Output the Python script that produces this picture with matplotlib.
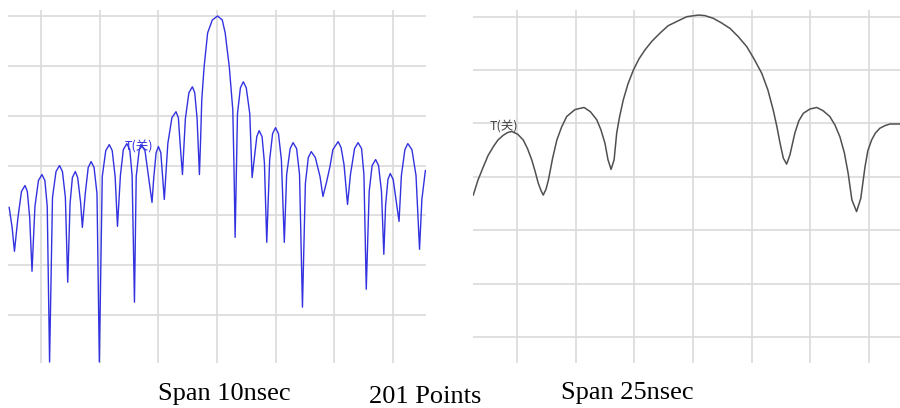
import matplotlib.pyplot as plt

plt.rcParams['font.family'] = ['Noto Sans CJK SC', 'DejaVu Sans']

# span 10 nsec trace (time in ns, level in dB)
t10 = [-3.55, -3.50, -3.46,
       -3.40, -3.34, -3.28, -3.24, -3.20, -3.16,
       -3.11, -3.05, -2.99, -2.94, -2.90, -2.86,
       -2.81, -2.75, -2.69, -2.64, -2.59, -2.55,
       -2.51, -2.47, -2.42, -2.38, -2.33, -2.30,
       -2.25, -2.20, -2.15, -2.10, -2.05, -2.01,
       -1.96, -1.90, -1.84, -1.79, -1.74, -1.70,
       -1.65, -1.60, -1.54, -1.49, -1.45, -1.41,
       -1.38, -1.33, -1.30, -1.23, -1.17, -1.11,
       -1.08, -1.04, -1.00, -0.96, -0.93, -0.90,
       -0.84, -0.77, -0.70, -0.66, -0.63, -0.59,
       -0.54, -0.48, -0.42, -0.38, -0.34, -0.30,
       -0.28, -0.26, -0.22, -0.16, -0.08, 0.01, 0.09, 0.14, 0.21, 0.27, 0.29, 0.31,
       0.35, 0.40, 0.45, 0.50, 0.56, 0.60,
       0.64, 0.68, 0.72, 0.77, 0.81, 0.85,
       0.90, 0.95, 1.00, 1.05, 1.10, 1.15,
       1.19, 1.25, 1.30, 1.36, 1.41, 1.46,
       1.51, 1.56, 1.61, 1.68, 1.76, 1.81,
       1.87, 1.93, 1.98, 2.07, 2.12, 2.17, 2.23,
       2.28, 2.35, 2.41, 2.47, 2.51, 2.55,
       2.60, 2.65, 2.71, 2.76, 2.81, 2.85,
       2.88, 2.92, 2.96, 3.01, 3.06, 3.11,
       3.15, 3.21, 3.26, 3.33, 3.40, 3.46,
       3.50, 3.56]
db10 = [-38.4, -42.4, -47.2,
        -40.4, -35.2, -34.0, -35.2, -40.4, -51.2,
        -38.2, -33.0, -31.8, -33.0, -38.2, -69.4,
        -36.4, -31.2, -30.0, -31.2, -36.4, -53.4,
        -37.6, -32.4, -31.2, -32.4, -37.4, -42.4,
        -35.6, -30.4, -29.2, -30.4, -35.6, -69.4,
        -32.2, -27.0, -25.8, -27.0, -32.2, -42.2,
        -32.0, -26.8, -25.6, -26.8, -32.0, -57.4,
        -32.2, -27.0, -25.8, -27.0, -32.2, -37.4,
        -32.4, -27.4, -26.2, -27.4, -32.0, -36.8,
        -25.6, -20.4, -19.2, -20.4, -25.6, -31.8,
        -20.6, -15.4, -14.2, -15.4, -20.6, -31.8,
        -24.8, -16.8, -10.2, -3.4, -0.8, 0.0, -0.8, -3.4, -10.2, -18.8, -30.2, -44.4,
        -19.6, -14.4, -13.2, -14.4, -19.6, -32.4,
        -28.2, -24.2, -23.0, -24.2, -29.4, -45.4,
        -28.8, -23.6, -22.4, -23.6, -28.8, -45.4,
        -31.8, -26.6, -25.4, -26.6, -31.8, -58.4,
        -33.6, -28.4, -27.2, -28.4, -32.2, -36.2,
        -33.4, -30.2, -26.8, -25.2, -26.4, -29.8, -37.8,
        -31.8, -26.6, -25.4, -26.6, -31.8, -54.8,
        -35.2, -30.0, -28.8, -30.0, -35.2, -47.8,
        -38.0, -32.8, -31.6, -32.8, -37.0, -41.2,
        -32.0, -26.8, -25.6, -26.8, -32.0, -46.8,
        -36.8, -31.0]

# span 25 nsec trace
t25 = [-9.36, -9.16, -8.93, -8.73, -8.50, -8.31, -8.08, -7.90, -7.72, -7.47,
       -7.23, -7.05, -6.87, -6.73, -6.59, -6.47, -6.38, -6.26, -6.16, -5.98,
       -5.80, -5.60, -5.38, -5.03, -4.64, -4.37, -4.10, -3.92, -3.75, -3.62,
       -3.49, -3.36, -3.25, -3.13, -2.97, -2.77, -2.54, -2.30, -2.04, -1.75,
       -1.41, -1.06, -0.69, -0.26, 0.23, 0.51, 0.86, 1.19, 1.58, 1.92,
       2.29, 2.60, 2.93, 3.19, 3.42, 3.58, 3.71, 3.85, 3.99, 4.13,
       4.34, 4.51, 4.70, 4.98, 5.27, 5.54, 5.83, 6.05, 6.26, 6.45,
       6.61, 6.77, 6.97, 7.15, 7.33, 7.45, 7.61, 7.77, 7.96, 8.18,
       8.39, 8.82]
db25 = [-33.4, -30.6, -28.1, -26.0, -24.3, -23.1, -22.2, -21.7, -21.5, -22.0,
        -23.1, -24.7, -26.8, -28.9, -31.2, -32.6, -33.4, -32.3, -30.6, -26.5,
        -23.1, -20.7, -18.7, -17.4, -17.0, -17.8, -19.3, -21.2, -23.7, -26.8,
        -28.6, -26.8, -21.8, -18.8, -15.6, -12.6, -10.0, -7.9, -6.2, -4.6,
        -3.1, -1.7, -0.9, 0.0, 0.3, 0.2, -0.3, -1.1, -2.2, -3.7,
        -5.6, -7.9, -10.6, -13.7, -17.5, -20.7, -23.7, -26.5, -27.6, -25.9,
        -21.8, -19.5, -18.1, -17.3, -17.0, -17.6, -18.7, -20.3, -22.5, -25.5,
        -29.3, -34.3, -36.5, -34.0, -28.1, -25.1, -23.1, -21.8, -20.9, -20.4,
        -20.1, -20.1]

grid_db = [0, -10, -20, -30, -40, -50, -60]
grid_t10 = [-3, -2, -1, 0, 1, 2, 3]
grid_t25 = [-7.5, -5, -2.5, 0, 2.5, 5, 7.5]

fig = plt.figure(figsize=(9, 4.08), dpi=100)
ax1 = fig.add_axes([0.0089, 0.1103, 0.4644, 0.8652])
ax2 = fig.add_axes([0.5256, 0.1103, 0.4744, 0.8652])

for ax, gx in ((ax1, grid_t10), (ax2, grid_t25)):
    ax.set_xticks(gx)
    ax.set_yticks(grid_db)
    ax.grid(color='#dadada', linewidth=1.2)
    ax.set_axisbelow(True)
    ax.tick_params(length=0, labelbottom=False, labelleft=False)
    for s in ax.spines.values():
        s.set_visible(False)

ax1.plot(t10, db10, color='#3232e0', linewidth=1.0)
ax1.set_xlim(-3.57, 3.57)
ax1.set_ylim(-69.6, 1.2)
ax1.text(-1.585, -26.2, 'T(关)', color='#3232e0', fontsize=9, ha='left', va='center')

ax2.plot(t25, db25, color='#505050', linewidth=1.1)
ax2.set_xlim(-9.37, 8.82)
ax2.set_ylim(-64.85, 1.25)
ax2.text(-8.65, -20.66, 'T(关)', color='#444444', fontsize=9, ha='left', va='center')

fig.text(0.2489, 0.034, 'Span 10nsec', fontsize=19, family='Liberation Serif', ha='center', va='center')
fig.text(0.4722, 0.026, '201 Points', fontsize=19, family='Liberation Serif', ha='center', va='center')
fig.text(0.6967, 0.036, 'Span 25nsec', fontsize=19, family='Liberation Serif', ha='center', va='center')

plt.savefig('out.png')
